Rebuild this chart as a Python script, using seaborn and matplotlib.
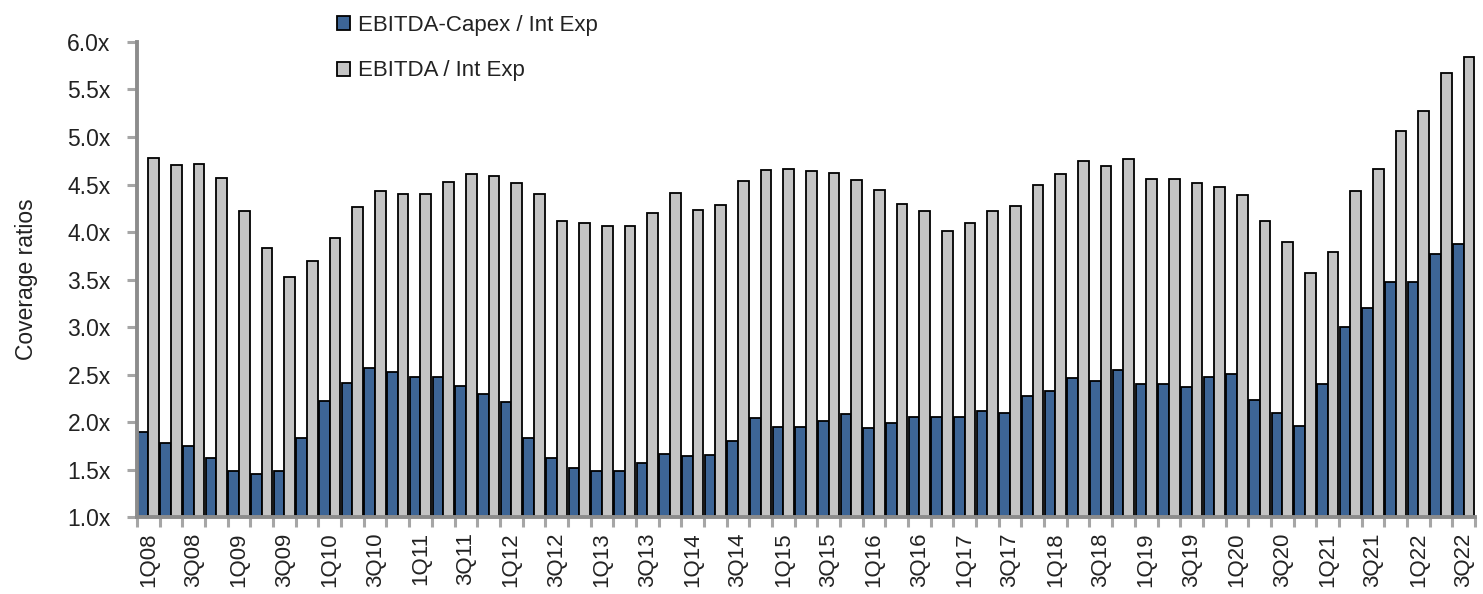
import numpy as np
import pandas as pd
import matplotlib
matplotlib.use("Agg")
import matplotlib.pyplot as plt
import seaborn as sns

# Quarterly coverage ratios, 1Q08 - 3Q22
quarters = [
    "1Q08", "2Q08", "3Q08", "4Q08", "1Q09", "2Q09", "3Q09", "4Q09",
    "1Q10", "2Q10", "3Q10", "4Q10", "1Q11", "2Q11", "3Q11", "4Q11",
    "1Q12", "2Q12", "3Q12", "4Q12", "1Q13", "2Q13", "3Q13", "4Q13",
    "1Q14", "2Q14", "3Q14", "4Q14", "1Q15", "2Q15", "3Q15", "4Q15",
    "1Q16", "2Q16", "3Q16", "4Q16", "1Q17", "2Q17", "3Q17", "4Q17",
    "1Q18", "2Q18", "3Q18", "4Q18", "1Q19", "2Q19", "3Q19", "4Q19",
    "1Q20", "2Q20", "3Q20", "4Q20", "1Q21", "2Q21", "3Q21", "4Q21",
    "1Q22", "2Q22", "3Q22",
]

ebitda_capex_int = [
    1.89, 1.78, 1.75, 1.62, 1.48, 1.45, 1.48, 1.83, 2.22, 2.41,
    2.57, 2.53, 2.47, 2.47, 2.38, 2.29, 2.21, 1.83, 1.62, 1.52,
    1.48, 1.48, 1.57, 1.66, 1.64, 1.65, 1.80, 2.04, 1.95, 1.95,
    2.01, 2.08, 1.94, 1.99, 2.05, 2.05, 2.05, 2.12, 2.09, 2.27,
    2.33, 2.46, 2.43, 2.55, 2.40, 2.40, 2.37, 2.47, 2.51, 2.23,
    2.10, 1.96, 2.40, 3.00, 3.20, 3.47, 3.47, 3.77, 3.87,
]

ebitda_int = [
    4.78, 4.71, 4.72, 4.57, 4.22, 3.83, 3.53, 3.69, 3.94, 4.26,
    4.43, 4.40, 4.40, 4.53, 4.61, 4.59, 4.52, 4.40, 4.12, 4.10,
    4.06, 4.06, 4.20, 4.41, 4.23, 4.28, 4.54, 4.65, 4.66, 4.64,
    4.62, 4.55, 4.44, 4.30, 4.22, 4.01, 4.10, 4.22, 4.27, 4.50,
    4.61, 4.75, 4.70, 4.77, 4.56, 4.56, 4.52, 4.47, 4.39, 4.12,
    3.90, 3.57, 3.79, 4.43, 4.66, 5.06, 5.27, 5.67, 5.84,
]

series_names = ["EBITDA-Capex / Int Exp", "EBITDA / Int Exp"]
y_ticks = [1.0, 1.5, 2.0, 2.5, 3.0, 3.5, 4.0, 4.5, 5.0, 5.5, 6.0]

df = pd.DataFrame({
    "quarter": quarters * 2,
    "series": [series_names[0]] * len(quarters) + [series_names[1]] * len(quarters),
    "value": ebitda_capex_int + ebitda_int,
})

sns.set_theme(style="white")
plt.rcParams["font.family"] = ["Liberation Sans", "DejaVu Sans"]

text_color = "#222222"
axis_gray = "#8c8c8c"

fig = plt.figure(figsize=(14.83, 5.94), dpi=100)
ax = fig.add_axes([0.0924, 0.1296, 0.9022, 0.7997])

sns.barplot(
    data=df, x="quarter", y="value", hue="series",
    order=quarters, hue_order=series_names,
    palette=["#3d6596", "#c4c4c4"], saturation=1,
    width=0.94, gap=0, edgecolor="black", linewidth=1.3,
    errorbar=None, ax=ax,
)

ax.set_ylim(1.0, 6.0)
ax.set_xlim(-0.5, len(quarters) - 0.5)
ax.set_yticks(y_ticks)
ax.set_yticklabels([f"{v:.1f}x" for v in y_ticks], fontsize=16.5, color=text_color)

ax.set_xticks(range(0, len(quarters), 2))
ax.set_xticklabels(quarters[::2], rotation=90, fontsize=16, color=text_color)
ax.set_xticks(np.arange(-0.5, len(quarters), 1), minor=True)

ax.tick_params(axis="x", which="major", bottom=True, length=0, pad=11)
ax.tick_params(axis="x", which="minor", bottom=True, length=7, width=2.2,
               color="#a6a6a6", direction="out")
ax.tick_params(axis="y", which="major", left=True, length=7, width=2.2,
               color="#a6a6a6", direction="out", pad=12)

ax.set_xlabel("")
ax.set_ylabel("Coverage ratios", fontsize=16.5, color=text_color)
ax.yaxis.set_label_coords(-0.074, 0.5)

for side in ("top", "right"):
    ax.spines[side].set_visible(False)
for side in ("left", "bottom"):
    ax.spines[side].set_color(axis_gray)
    ax.spines[side].set_linewidth(2.8)

handles, labels = ax.get_legend_handles_labels()
ax.get_legend().remove()
fig.legend(
    handles, labels, loc="upper left",
    bbox_to_anchor=(337 / 1483, 1 - 15 / 594),
    frameon=False, fontsize=16, labelcolor=text_color,
    handlelength=0.6, handleheight=0.6, handletextpad=0.35,
    labelspacing=1.1, borderaxespad=0, borderpad=0,
)

fig.savefig("out.png", dpi=100)
